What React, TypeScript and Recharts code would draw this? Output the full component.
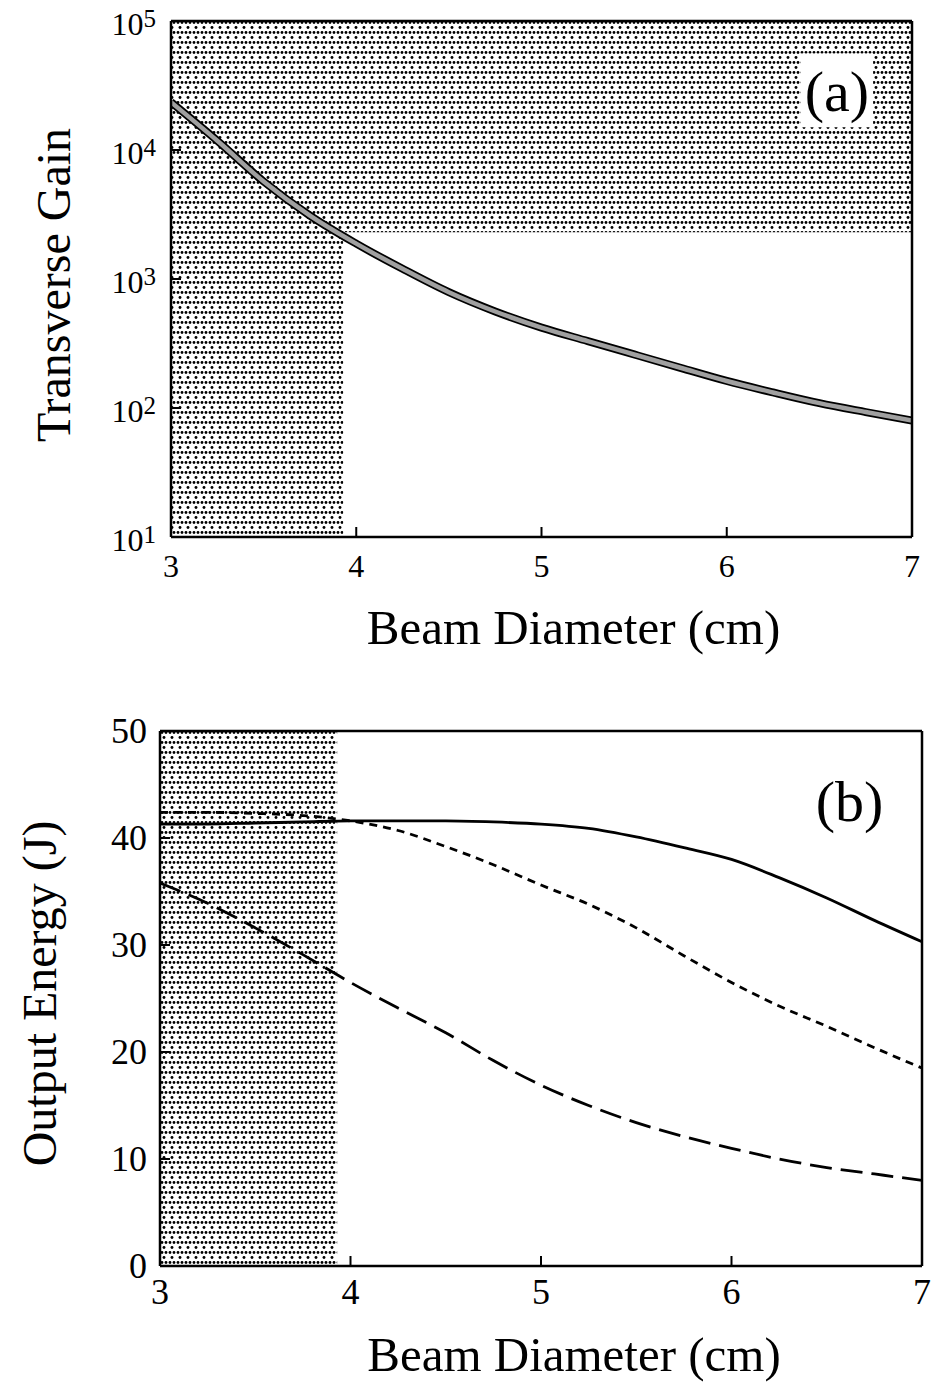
import React from 'react';
import { ComposedChart, Line, XAxis, YAxis, ReferenceArea } from 'recharts';

// beam diameter (cm), shared by both panels
const diameters = [3, 3.25, 3.5, 3.75, 4, 4.25, 4.5, 4.75, 5, 5.25, 5.5, 5.75, 6, 6.25, 6.5, 6.75, 7];

// panel (a)
const transverseGain = [23500, 11800, 5700, 3100, 1880, 1200, 790, 560, 420, 330, 260, 205, 162, 132, 109, 93, 80];

// panel (b)
const energySolid = [41.3, 41.3, 41.4, 41.5, 41.6, 41.6, 41.6, 41.5, 41.3, 40.9, 40.1, 39.1, 38.0, 36.3, 34.4, 32.3, 30.3];
const energyShortDash = [42.4, 42.4, 42.3, 42.1, 41.6, 40.7, 39.2, 37.5, 35.6, 33.8, 31.6, 29.0, 26.5, 24.3, 22.4, 20.4, 18.5];
const energyLongDash = [35.8, 33.9, 31.6, 29.1, 26.5, 24.1, 21.8, 19.2, 16.9, 15.0, 13.4, 12.1, 11.0, 10.0, 9.2, 8.6, 8.0];

const xMajorTicks = [3, 4, 5, 6, 7];
const xMinorTicks = [3.5, 4.5, 5.5, 6.5];
const gainMajorTicks = [10, 100, 1000, 10000, 100000];
const gainMinorTicks = [
  20, 30, 40, 50, 60, 70, 80, 90,
  200, 300, 400, 500, 600, 700, 800, 900,
  2000, 3000, 4000, 5000, 6000, 7000, 8000, 9000,
  20000, 30000, 40000, 50000, 60000, 70000, 80000, 90000,
];
const energyMajorTicks = [0, 10, 20, 30, 40, 50];
const energyMinorTicks = [5, 15, 25, 35, 45];

// shaded (forbidden) region limits
const shadeEdge = 3.93;
const gainLimit = 2300;

const gainData = diameters.map((x, i) => ({ x, gain: transverseGain[i] }));
const energyData = diameters.map((x, i) => ({
  x,
  solid: energySolid[i],
  short: energyShortDash[i],
  long: energyLongDash[i],
}));

const SERIF = 'Liberation Serif, Times New Roman, serif';
const serifStyle = { fontFamily: SERIF };
const AXIS_STROKE = { stroke: '#000', strokeWidth: 2.5 };
const TICK_STROKE = { stroke: '#000', strokeWidth: 2 };

function DotPattern({ id }: { id: string }) {
  return (
    <defs>
      <pattern id={id} width={8} height={10} patternUnits="userSpaceOnUse">
        <rect width={8} height={10} fill="#fff" />
        <circle cx={2} cy={2.5} r={1.4} fill="#000" />
        <circle cx={6} cy={2.5} r={1.4} fill="#000" />
        <circle cx={4} cy={7.5} r={1.45} fill="#000" />
      </pattern>
    </defs>
  );
}

function LogTick({ x, y, payload }: any) {
  const exp = Math.round(Math.log10(payload.value));
  return (
    <text x={x} y={y + 14} textAnchor="end" style={serifStyle} fill="#000">
      <tspan fontSize={32}>10</tspan>
      <tspan fontSize={25} dy={-8}>{exp}</tspan>
    </text>
  );
}

function NumTick({ x, y, payload, size, anchor, dy }: any) {
  return (
    <text x={x} y={y + dy} textAnchor={anchor} style={serifStyle} fontSize={size} fill="#000">
      {payload.value}
    </text>
  );
}

function xTitle(dx: number, dy: number) {
  return (p: any) => {
    const vb = p.viewBox || {};
    return (
      <text x={vb.x + vb.width / 2 + dx} y={vb.y + dy} textAnchor="middle" style={serifStyle} fontSize={49} fill="#000">
        Beam Diameter (cm)
      </text>
    );
  };
}

function yTitle(text: string, baseX: number, dy: number) {
  return (p: any) => {
    const vb = p.viewBox || {};
    const cy = vb.y + vb.height / 2 + dy;
    return (
      <text transform={`translate(${baseX}, ${cy}) rotate(-90)`} textAnchor="middle" style={serifStyle} fontSize={48} fill="#000">
        {text}
      </text>
    );
  };
}

function GainPanel() {
  return (
    <ComposedChart width={933} height={680} data={gainData} margin={{ top: 0, right: 0, bottom: 0, left: 0 }}>
      <DotPattern id="dotsA" />
      <ReferenceArea xAxisId="b" yAxisId="l" x1={3} x2={shadeEdge} y1={10} y2={100000} fill="url(#dotsA)" fillOpacity={1} stroke="none" ifOverflow="hidden" />
      <ReferenceArea xAxisId="b" yAxisId="l" x1={shadeEdge} x2={7} y1={gainLimit} y2={100000} fill="url(#dotsA)" fillOpacity={1} stroke="none" ifOverflow="hidden" />
      <ReferenceArea
        xAxisId="b"
        yAxisId="l"
        x1={6.4}
        x2={6.79}
        y1={15000}
        y2={56000}
        fill="#fff"
        fillOpacity={1}
        stroke="none"
        label={{ value: '(a)', position: 'center', fontSize: 58, style: serifStyle, fill: '#000' }}
      />

      <XAxis xAxisId="b" dataKey="x" type="number" domain={[3, 7]} allowDataOverflow ticks={xMajorTicks} height={143}
        axisLine={AXIS_STROKE} tickLine={TICK_STROKE} tickSize={-10} tickMargin={28}
        tick={<NumTick size={32} anchor="middle" dy={22} />} label={{ content: xTitle(32, 107) }} />
      <XAxis xAxisId="bm" dataKey="x" type="number" domain={[3, 7]} allowDataOverflow ticks={xMinorTicks} mirror height={1}
        axisLine={false} tickLine={TICK_STROKE} tickSize={6} tick={false} />
      <XAxis xAxisId="t" dataKey="x" type="number" domain={[3, 7]} allowDataOverflow ticks={xMajorTicks} orientation="top" height={21}
        axisLine={AXIS_STROKE} tickLine={TICK_STROKE} tickSize={-10} tick={false} />
      <XAxis xAxisId="tm" dataKey="x" type="number" domain={[3, 7]} allowDataOverflow ticks={xMinorTicks} orientation="top" mirror height={1}
        axisLine={false} tickLine={TICK_STROKE} tickSize={6} tick={false} />

      <YAxis yAxisId="l" type="number" scale="log" domain={[10, 100000]} allowDataOverflow ticks={gainMajorTicks} width={171}
        axisLine={AXIS_STROKE} tickLine={TICK_STROKE} tickSize={-10} tickMargin={25}
        tick={<LogTick />} label={{ content: yTitle('Transverse Gain', 70, 6) }} />
      <YAxis yAxisId="lm" type="number" scale="log" domain={[10, 100000]} allowDataOverflow ticks={gainMinorTicks} mirror width={1}
        axisLine={false} tickLine={TICK_STROKE} tickSize={6} tick={false} />
      <YAxis yAxisId="r" type="number" scale="log" domain={[10, 100000]} allowDataOverflow ticks={gainMajorTicks} orientation="right" width={21}
        axisLine={AXIS_STROKE} tickLine={TICK_STROKE} tickSize={-10} tick={false} />
      <YAxis yAxisId="rm" type="number" scale="log" domain={[10, 100000]} allowDataOverflow ticks={gainMinorTicks} orientation="right" mirror width={1}
        axisLine={false} tickLine={TICK_STROKE} tickSize={6} tick={false} />

      <Line xAxisId="b" yAxisId="l" dataKey="gain" type="monotone" stroke="#000" strokeWidth={8} dot={false} isAnimationActive={false} />
      <Line xAxisId="b" yAxisId="l" dataKey="gain" type="monotone" stroke="#a0a0a0" strokeWidth={4.5} dot={false} isAnimationActive={false} />
    </ComposedChart>
  );
}

function EnergyPanel() {
  return (
    <ComposedChart width={933} height={703} data={energyData} margin={{ top: 0, right: 0, bottom: 0, left: 0 }}>
      <DotPattern id="dotsB" />
      <ReferenceArea xAxisId="b" yAxisId="l" x1={3} x2={shadeEdge} y1={0} y2={50} fill="url(#dotsB)" fillOpacity={1} stroke="none" ifOverflow="hidden" />
      <ReferenceArea
        xAxisId="b"
        yAxisId="l"
        x1={6.42}
        x2={6.82}
        y1={41}
        y2={46}
        fill="none"
        stroke="none"
        label={{ value: '(b)', position: 'center', fontSize: 58, style: serifStyle, fill: '#000' }}
      />

      <XAxis xAxisId="b" dataKey="x" type="number" domain={[3, 7]} allowDataOverflow ticks={xMajorTicks} height={117}
        axisLine={AXIS_STROKE} tickLine={TICK_STROKE} tickSize={-10} tickMargin={24}
        tick={<NumTick size={36} anchor="middle" dy={24} />} label={{ content: xTitle(33, 105) }} />
      <XAxis xAxisId="bm" dataKey="x" type="number" domain={[3, 7]} allowDataOverflow ticks={xMinorTicks} mirror height={1}
        axisLine={false} tickLine={TICK_STROKE} tickSize={6} tick={false} />
      <XAxis xAxisId="t" dataKey="x" type="number" domain={[3, 7]} allowDataOverflow ticks={xMajorTicks} orientation="top" height={51}
        axisLine={AXIS_STROKE} tickLine={TICK_STROKE} tickSize={-10} tick={false} />
      <XAxis xAxisId="tm" dataKey="x" type="number" domain={[3, 7]} allowDataOverflow ticks={xMinorTicks} orientation="top" mirror height={1}
        axisLine={false} tickLine={TICK_STROKE} tickSize={6} tick={false} />

      <YAxis yAxisId="l" type="number" domain={[0, 50]} allowDataOverflow ticks={energyMajorTicks} width={160}
        axisLine={AXIS_STROKE} tickLine={TICK_STROKE} tickSize={-10} tickMargin={23}
        tick={<NumTick size={36} anchor="end" dy={12} />} label={{ content: yTitle('Output Energy (J)', 56, -5) }} />
      <YAxis yAxisId="lm" type="number" domain={[0, 50]} allowDataOverflow ticks={energyMinorTicks} mirror width={1}
        axisLine={false} tickLine={TICK_STROKE} tickSize={6} tick={false} />
      <YAxis yAxisId="r" type="number" domain={[0, 50]} allowDataOverflow ticks={energyMajorTicks} orientation="right" width={11}
        axisLine={AXIS_STROKE} tickLine={TICK_STROKE} tickSize={-10} tick={false} />
      <YAxis yAxisId="rm" type="number" domain={[0, 50]} allowDataOverflow ticks={energyMinorTicks} orientation="right" mirror width={1}
        axisLine={false} tickLine={TICK_STROKE} tickSize={6} tick={false} />

      <Line xAxisId="b" yAxisId="l" dataKey="solid" type="monotone" stroke="#000" strokeWidth={2.8} dot={false} isAnimationActive={false} />
      <Line xAxisId="b" yAxisId="l" dataKey="short" type="monotone" stroke="#000" strokeWidth={2.8} strokeDasharray="8 6" dot={false} isAnimationActive={false} />
      <Line xAxisId="b" yAxisId="l" dataKey="long" type="monotone" stroke="#000" strokeWidth={2.8} strokeDasharray="22 9" dot={false} isAnimationActive={false} />
    </ComposedChart>
  );
}

export default function App() {
  return (
    <div style={{ position: 'absolute', left: 0, top: 0, width: 933, height: 1383, background: '#fff', fontFamily: SERIF }}>
      <GainPanel />
      <EnergyPanel />
    </div>
  );
}
